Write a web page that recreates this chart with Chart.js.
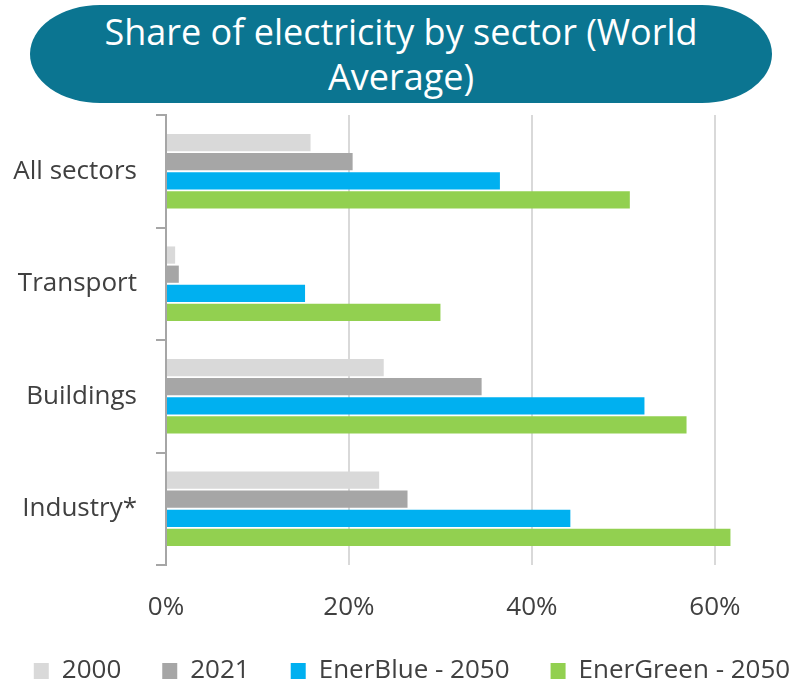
<!DOCTYPE html>
<html>
<head>
<meta charset="utf-8">
<script src="https://cdn.jsdelivr.net/npm/chart.js@4"></script>
<style>
    html, body { margin: 0; padding: 0; background: #ffffff; }
    body { width: 797px; height: 680px; position: relative; overflow: hidden; font-family: 'Open Sans', sans-serif; }
    #title {
        position: absolute; left: 30px; top: 5px; width: 742px; height: 98px;
        background: #0b7591; border-radius: 70px / 49px;
        color: #ffffff; text-align: center;
        font-size: 36px; line-height: 45px; padding-top: 4px; box-sizing: border-box;
        white-space: nowrap;
    }
    /* plot runs past the right edge of the page, the axis is cut off there */
    #chartBox { position: absolute; left: -8px; top: 108px; width: 840px; height: 572px; }
</style>
</head>
<body>
<div id="title">Share of electricity by sector (World<br>Average)</div>
<div id="chartBox"><canvas id="chart"></canvas></div>
<script>
const sectors = ['All sectors', 'Transport', 'Buildings', 'Industry*'];
const share2000 = [15.8, 1.0, 23.8, 23.3];
const share2021 = [20.4, 1.4, 34.5, 26.4];
const enerBlue2050 = [36.5, 15.2, 52.3, 44.2];
const enerGreen2050 = [50.7, 30.0, 56.9, 61.7];
const xTicks = [0, 20, 40, 60];

const textColor = '#404040';
const fontFamily = 'Open Sans';

const series = [
    { label: '2000', data: share2000, color: '#d9d9d9' },
    { label: '2021', data: share2021, color: '#a6a6a6' },
    { label: 'EnerBlue - 2050', data: enerBlue2050, color: '#00b0f0' },
    { label: 'EnerGreen - 2050', data: enerGreen2050, color: '#92d050' }
];

// wide gaps between legend items, but keep the legend box short
const legendHeight = {
    id: 'legendHeight',
    beforeInit(chart) {
        const fit = chart.legend.fit;
        chart.legend.fit = function () {
            fit.call(this);
            this.height = 63;
        };
    }
};

const ctx = document.getElementById('chart').getContext('2d');
new Chart(ctx, {
    type: 'bar',
    data: {
        labels: sectors,
        datasets: series.map(s => ({
            label: s.label,
            data: s.data,
            backgroundColor: s.color,
            borderWidth: 0,
            categoryPercentage: 0.68,
            barPercentage: 0.9
        }))
    },
    plugins: [legendHeight],
    options: {
        indexAxis: 'y',
        responsive: true,
        maintainAspectRatio: false,
        animation: false,
        layout: { padding: { top: 7, right: 0, left: 0, bottom: 0 } },
        plugins: {
            title: { display: false },
            tooltip: { enabled: false },
            legend: {
                position: 'bottom',
                labels: {
                    color: textColor,
                    font: { family: fontFamily, size: 26 },
                    boxWidth: 15,
                    boxHeight: 16,
                    padding: 41
                }
            }
        },
        scales: {
            x: {
                min: 0,
                max: 72.8,
                afterBuildTicks: scale => { scale.ticks = xTicks.map(v => ({ value: v })); },
                afterFit: scale => { scale.height = 52; },
                grid: { color: '#d9d9d9', lineWidth: 2, drawTicks: false },
                border: { display: false },
                ticks: {
                    color: textColor,
                    padding: 27,
                    font: { family: fontFamily, size: 26 },
                    callback: v => v + '%'
                }
            },
            y: {
                afterFit: scale => {
                    scale.width = 174;
                    scale.paddingTop = 0;
                    scale.paddingBottom = 0;
                },
                grid: { drawOnChartArea: false, drawTicks: true, tickLength: 10, color: '#a6a6a6', lineWidth: 2 },
                border: { color: '#a6a6a6', width: 2 },
                ticks: {
                    color: textColor,
                    padding: 19,
                    font: { family: fontFamily, size: 26 }
                }
            }
        }
    }
});
</script>
</body>
</html>
